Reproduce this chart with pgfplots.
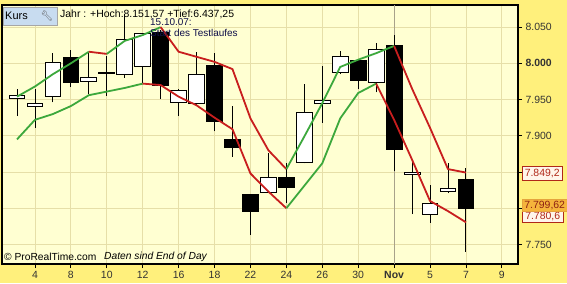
\documentclass[border=0pt]{standalone}
\usepackage{pgfplots}
\pgfplotsset{compat=1.18}
\usepackage{fontspec}
\setmainfont{Liberation Sans}
\newfontfamily\emojifont{Noto Emoji}
\definecolor{outerbg}{HTML}{FFF07C}
\definecolor{plotbg}{HTML}{FFFFD2}
\definecolor{gridc}{HTML}{E6DFA8}
\definecolor{monthc}{HTML}{A8A28A}
\definecolor{redl}{HTML}{C81E1E}
\definecolor{greenl}{HTML}{3CA83C}
\definecolor{navy}{HTML}{10104A}
\definecolor{kursbg}{HTML}{C8DCF0}
\definecolor{lblred}{HTML}{B02818}
\definecolor{orangebox}{HTML}{F5B43C}

% candle: index, open, high, low, close
\newcommand\candle[5]{%
  \pgfmathsetmacro\cxl{#1-0.44}%
  \pgfmathsetmacro\cxr{#1+0.44}%
  \pgfmathparse{#5>=#2?1:0}%
  \ifdim\pgfmathresult pt>0.5pt \def\cfill{white}\else\def\cfill{black}\fi
  \edef\cdo{%
    \noexpand\addplot[wick] coordinates {(#1,#4) (#1,#3)};%
    \noexpand\addplot[body, fill=\cfill] coordinates {(\cxl,#2) (\cxr,#2) (\cxr,#5) (\cxl,#5)} -- cycle;%
  }\cdo}

\begin{document}
\begin{tikzpicture}[x=1bp,y=1bp]
\fill[outerbg] (0,0) rectangle (567,283);
\useasboundingbox (0,0) rectangle (567,283);
\begin{axis}[
  at={(2bp,19bp)}, anchor=south west, scale only axis,
  width=516bp, height=259bp,
  xmin=-0.835, xmax=27.9, ymin=7723, ymax=8080.5,
  axis background/.style={fill=plotbg},
  axis line style={black, line width=1.6bp},
  clip mode=individual,
  grid=major,
  major grid style={gridc, line width=0.8bp},
  tick style={black, line width=0.8bp},
  major tick length=4bp,
  tick align=outside,
  xtick pos=bottom, ytick pos=right, yticklabel pos=right,
  xtick={1,3,5,7,9,11,13,15,17,19,23,25,27},
  xticklabels={4,8,10,12,16,18,22,24,26,30,5,7,9},
  extra x ticks={21},
  extra x tick labels={\textbf{Nov}},
  extra x tick style={major grid style={monthc, line width=1bp}},
  ytick={7750,7800,7850,7900,7950,8000,8050},
  yticklabels={7.750,,,7.900,7.950,\textbf{8.000},8.050},
  tick label style={font=\fontsize{10.5}{12}\selectfont, text=black!80},
  wick/.style={black, line width=0.9bp, forget plot},
  body/.style={draw=black, line width=0.9bp, forget plot},
  ind/.style={line width=1.8bp, line join=round},
]
\candle{0}{7951}{7964}{7927}{7956}
\candle{1}{7940}{7965}{7911}{7945}
\candle{2}{7954}{8014}{7946}{8001}
\candle{3}{8008}{8018}{7967}{7974}
\candle{4}{7975}{8014}{7957}{7980}
\candle{5}{7986}{8010}{7955}{7987}
\candle{6}{7985}{8068}{7980}{8033}
\candle{7}{7995}{8042}{7973}{8041}
\candle{8}{8043}{8046}{7951}{7969}
\candle{9}{7946}{7964}{7927}{7963}
\candle{10}{7944}{8016}{7943}{7985}
\candle{11}{7997}{8014}{7906}{7920}
\candle{12}{7895}{7941}{7871}{7884}
\candle{13}{7819}{7819}{7763}{7795}
\candle{14}{7822}{7876}{7821}{7842}
\candle{15}{7842}{7862}{7807}{7828}
\candle{16}{7863}{7971}{7862}{7932}
\candle{17}{7944}{7996}{7918}{7949}
\candle{18}{7988}{8017}{7985}{8010}
\candle{19}{8004}{8004}{7964}{7977}
\candle{20}{7974}{8028}{7960}{8019}
\candle{21}{8024}{8039}{7852}{7881}
\candle{22}{7846}{7864}{7792}{7849}
\candle{23}{7791}{7832}{7780}{7807}
\candle{24}{7823}{7863}{7821}{7827}
\candle{25}{7840}{7855}{7740}{7799.62}
% upper line
\addplot[greenl, ind] coordinates {(0,7954) (1,7968) (2,7985) (3,8000) (4,8016)};
\addplot[redl, ind] coordinates {(4,8016) (5,8013)};
\addplot[greenl, ind] coordinates {(5,8013) (6,8031) (7,8039) (8,8050)};
\addplot[redl, ind] coordinates {(8,8050) (9,8016) (10,8009) (11,8002) (12,7992) (13,7924) (14,7880) (15,7854)};
\addplot[greenl, ind] coordinates {(15,7854) (16,7899) (17,7945) (18,7995) (19,8005) (20,8014) (21,8024)};
\addplot[redl, ind] coordinates {(21,8024) (22,7965) (23,7911) (24,7854) (25,7849.2)};
% lower line
\addplot[greenl, ind] coordinates {(0,7895) (1,7922) (2,7930) (3,7941) (4,7956) (5,7961) (6,7966) (7,7972)};
\addplot[redl, ind] coordinates {(7,7972) (8,7970) (9,7954) (10,7942) (11,7925) (12,7909) (13,7848) (14,7823) (15,7800)};
\addplot[greenl, ind] coordinates {(15,7800) (16,7831) (17,7862) (18,7924) (19,7959) (20,7972)};
\addplot[redl, ind] coordinates {(20,7972) (21,7922) (22,7867) (23,7810) (24,7796) (25,7780.6)};
\end{axis}
% top-left box
\draw[fill=kursbg, draw=gray!70, line width=0.6bp] (2.8,258) rectangle (57,275.5);
\node[anchor=west, inner sep=0, font=\fontsize{11}{12}\selectfont] at (5,266.8) {Kurs};
\node[inner sep=0, text=black!65] at (47,266.8) {\emojifont\fontsize{10}{10}\selectfont 🔧};
\node[anchor=west, inner sep=0, font=\fontsize{10.5}{12}\selectfont] at (60,268.5) {Jahr : +Hoch:8.151,57 +Tief:6.437,25};
\node[anchor=west, inner sep=0, font=\fontsize{10}{12}\selectfont, text=navy] at (150,261) {15.10.07:};
\node[anchor=west, inner sep=0, font=\fontsize{10}{12}\selectfont, text=navy] at (150,250) {Start des Testlaufes};
% bottom-left
\node[anchor=west, inner sep=0, font=\fontsize{10.3}{12}\selectfont] at (4,26) {© ProRealTime.com};
\node[anchor=west, inner sep=0, font=\fontsize{10.3}{12}\selectfont] at (104,26) {\textit{Daten sind End of Day}};
% right value boxes
\draw[fill=white!92!orange, draw=lblred, line width=0.6bp] (522.5,103) rectangle (562,116.3);
\node[inner sep=0, font=\fontsize{10.5}{12}\selectfont, text=lblred] at (542.2,109.6) {7.849,2};
\draw[fill=white!92!orange, draw=lblred, line width=0.6bp] (522.5,60.3) rectangle (563,71.5);
\node[inner sep=0, font=\fontsize{10.5}{12}\selectfont, text=lblred] at (542.7,66) {7.780,6};
\draw[fill=orangebox, draw=orangebox!70!brown, line width=0.6bp] (522.5,71.5) rectangle (567,84);
\node[inner sep=0, font=\fontsize{10.5}{12}\selectfont, text=lblred!80!black] at (544.7,77.7) {7.799,62};
\end{tikzpicture}
\end{document}
